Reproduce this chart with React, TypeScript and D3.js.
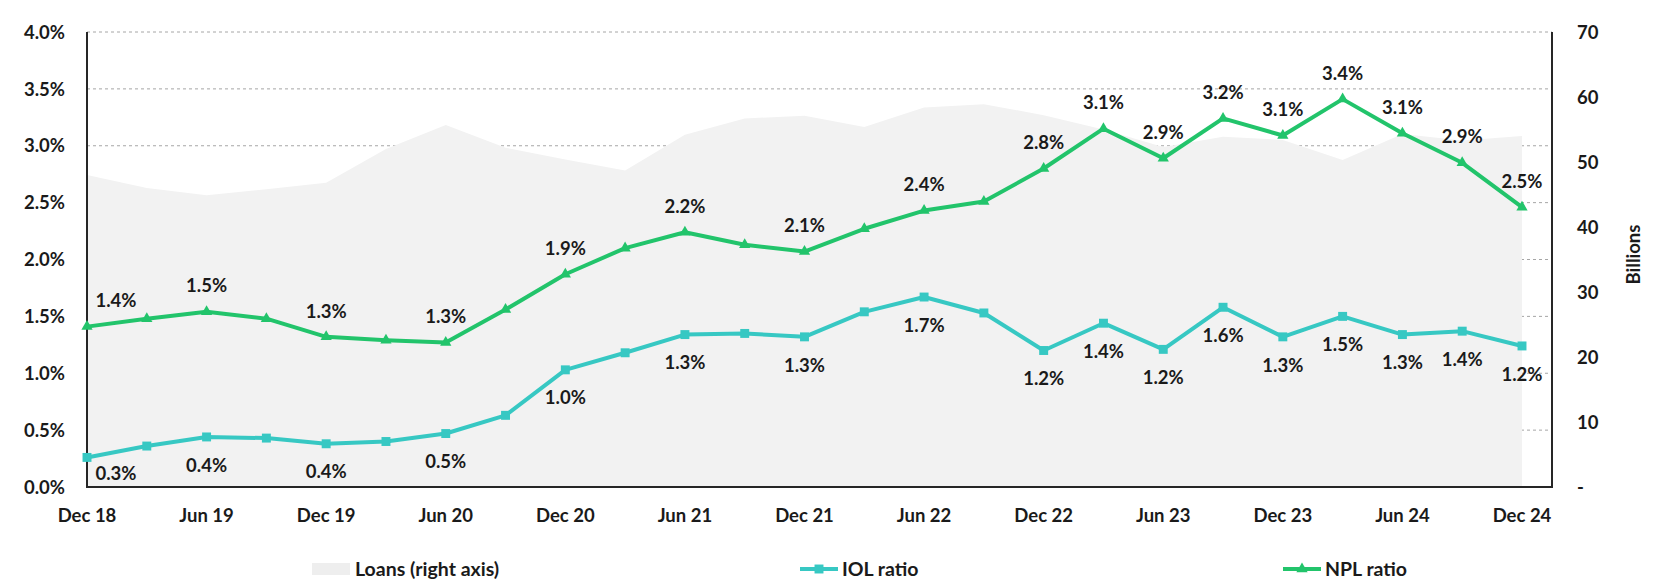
import React, { useEffect, useRef } from 'react';
import * as d3 from 'd3';

const categories = [
  'Dec 18', 'Mar 19', 'Jun 19', 'Sep 19', 'Dec 19', 'Mar 20', 'Jun 20', 'Sep 20', 'Dec 20',
  'Mar 21', 'Jun 21', 'Sep 21', 'Dec 21', 'Mar 22', 'Jun 22', 'Sep 22', 'Dec 22',
  'Mar 23', 'Jun 23', 'Sep 23', 'Dec 23', 'Mar 24', 'Jun 24', 'Sep 24', 'Dec 24',
];

// loans, billions (right axis)
const loans = [
  48.0, 46.0, 44.9, 45.8, 46.8, 52.0, 55.7, 52.2, 50.4, 48.7, 54.2, 56.7, 57.1,
  55.4, 58.4, 58.9, 57.2, 55.0, 52.3, 53.9, 53.4, 50.3, 54.3, 53.3, 54.0,
];

// ratios in %
const iolRatio = [
  0.26, 0.36, 0.44, 0.43, 0.38, 0.40, 0.47, 0.63, 1.03, 1.18, 1.34, 1.35, 1.32,
  1.54, 1.67, 1.53, 1.20, 1.44, 1.21, 1.58, 1.32, 1.50, 1.34, 1.37, 1.24,
];
const nplRatio = [
  1.41, 1.48, 1.54, 1.48, 1.32, 1.29, 1.27, 1.56, 1.87, 2.10, 2.24, 2.13, 2.07,
  2.27, 2.43, 2.51, 2.80, 3.15, 2.89, 3.24, 3.09, 3.41, 3.11, 2.85, 2.46,
];

const leftTicks = [0, 0.5, 1.0, 1.5, 2.0, 2.5, 3.0, 3.5, 4.0];
const rightTicks = [0, 10, 20, 30, 40, 50, 60, 70];
const xTickLabels = categories.filter(c => c.startsWith('Dec') || c.startsWith('Jun'));

// labels on every half-year, then every quarter from Dec 22 on
const labelEveryFrom = categories.indexOf('Dec 22');

const IOL_COLOR = '#37c8c3';
const NPL_COLOR = '#22c46b';
const AREA_COLOR = '#f2f2f2';
const FONT = 'Lato, sans-serif';
const FS = 18.5;

export default function App() {
  const svgRef = useRef<SVGSVGElement>(null);

  useEffect(() => {
    if (!svgRef.current) return;
    const svg = d3.select(svgRef.current);
    svg.selectAll('*').remove();

    const left = 87, right = 1552, top = 32, bottom = 487;

    const x = d3.scalePoint<string>().domain(categories).range([left, 1522]);
    const y = d3.scaleLinear().domain([0, 4]).range([bottom, top]);
    const y2 = d3.scaleLinear().domain([0, 70]).range([bottom, top]);

    const g = svg.append('g')
      .style('font-family', FONT)
      .style('font-weight', 700)
      .style('font-size', `${FS}px`);

    // gridlines
    g.selectAll('.grid')
      .data(leftTicks.filter(t => t > 0))
      .enter()
      .append('line')
        .attr('x1', left).attr('x2', right)
        .attr('y1', d => y(d)).attr('y2', d => y(d))
        .attr('stroke', '#a6a6a6')
        .attr('stroke-width', 1)
        .attr('stroke-dasharray', '3,3');

    // loans area
    const area = d3.area<number>()
      .x((_, i) => x(categories[i]) || 0)
      .y0(bottom)
      .y1(d => y2(d));
    g.append('path')
      .datum(loans)
      .attr('d', area)
      .attr('fill', AREA_COLOR);

    // axes lines
    g.append('line')
      .attr('x1', left).attr('x2', left).attr('y1', top).attr('y2', bottom)
      .attr('stroke', '#262626').attr('stroke-width', 2);
    g.append('line')
      .attr('x1', right).attr('x2', right).attr('y1', top).attr('y2', bottom)
      .attr('stroke', '#262626').attr('stroke-width', 2);
    g.append('line')
      .attr('x1', left - 1).attr('x2', right + 1).attr('y1', bottom).attr('y2', bottom)
      .attr('stroke', '#262626').attr('stroke-width', 2);

    // left tick labels
    g.selectAll('.ltick')
      .data(leftTicks)
      .enter()
      .append('text')
        .attr('x', 65)
        .attr('y', d => y(d))
        .attr('dy', '0.36em')
        .attr('text-anchor', 'end')
        .attr('fill', '#1a1a1a')
        .text(d => `${d.toFixed(1)}%`);

    // right tick labels
    g.selectAll('.rtick')
      .data(rightTicks)
      .enter()
      .append('text')
        .attr('x', 1577)
        .attr('y', d => y2(d))
        .attr('dy', '0.36em')
        .attr('text-anchor', 'start')
        .attr('fill', '#1a1a1a')
        .text(d => (d === 0 ? '-' : String(d)));

    g.append('text')
      .attr('transform', `translate(1640,${(top + bottom) / 2 - 5}) rotate(-90)`)
      .attr('text-anchor', 'middle')
      .attr('fill', '#1a1a1a')
      .text('Billions');

    // x tick labels
    g.selectAll('.xtick')
      .data(xTickLabels)
      .enter()
      .append('text')
        .attr('x', d => x(d) || 0)
        .attr('y', 515)
        .attr('dy', '0.36em')
        .attr('text-anchor', 'middle')
        .attr('fill', '#1a1a1a')
        .text(d => d);

    const line = d3.line<number>()
      .x((_, i) => x(categories[i]) || 0)
      .y(d => y(d));

    const series = [
      { values: iolRatio, color: IOL_COLOR, symbol: d3.symbolSquare, size: 80, above: false },
      { values: nplRatio, color: NPL_COLOR, symbol: d3.symbolTriangle, size: 55, above: true },
    ];

    series.forEach(s => {
      g.append('path')
        .datum(s.values)
        .attr('d', line)
        .attr('fill', 'none')
        .attr('stroke', s.color)
        .attr('stroke-width', 4)
        .attr('stroke-linejoin', 'round');

      g.selectAll(null)
        .data(s.values)
        .enter()
        .append('path')
          .attr('d', d3.symbol().type(s.symbol).size(s.size)())
          .attr('transform', (d, i) => `translate(${x(categories[i])},${y(d)})`)
          .attr('fill', s.color);

      g.selectAll(null)
        .data(s.values.map((v, i) => ({ v, i })).filter(d => d.i % 2 === 0 || d.i >= labelEveryFrom))
        .enter()
        .append('text')
          .attr('x', d => Math.max(left + 29, x(categories[d.i]) || 0))
          .attr('y', d => Math.min(bottom - 14, y(d.v) + (s.above ? -26 : 28)))
          .attr('dy', '0.36em')
          .attr('text-anchor', 'middle')
          .attr('fill', '#1a1a1a')
          .text(d => `${d.v.toFixed(1)}%`);
    });

    // legend
    const ly = 569;
    const lg = g.append('g').style('font-size', '19.5px');
    lg.append('rect')
      .attr('x', 312).attr('y', ly - 6).attr('width', 38).attr('height', 12)
      .attr('fill', '#eeeeee');
    lg.append('text').attr('x', 355).attr('y', ly).attr('dy', '0.36em').attr('fill', '#1a1a1a')
      .text('Loans (right axis)');

    [
      { x0: 800, color: IOL_COLOR, symbol: d3.symbolSquare, size: 80, label: 'IOL ratio' },
      { x0: 1283, color: NPL_COLOR, symbol: d3.symbolTriangle, size: 55, label: 'NPL ratio' },
    ].forEach(item => {
      lg.append('line')
        .attr('x1', item.x0).attr('x2', item.x0 + 38).attr('y1', ly).attr('y2', ly)
        .attr('stroke', item.color).attr('stroke-width', 4);
      lg.append('path')
        .attr('d', d3.symbol().type(item.symbol).size(item.size)())
        .attr('transform', `translate(${item.x0 + 19},${ly})`)
        .attr('fill', item.color);
      lg.append('text').attr('x', item.x0 + 42).attr('y', ly).attr('dy', '0.36em')
        .attr('fill', '#1a1a1a')
        .text(item.label);
    });
  }, []);

  return (
    <div style={{ position: 'absolute', left: 0, top: 0, background: '#fff' }}>
      <svg ref={svgRef} width={1655} height={586} style={{ display: 'block' }} />
    </div>
  );
}
